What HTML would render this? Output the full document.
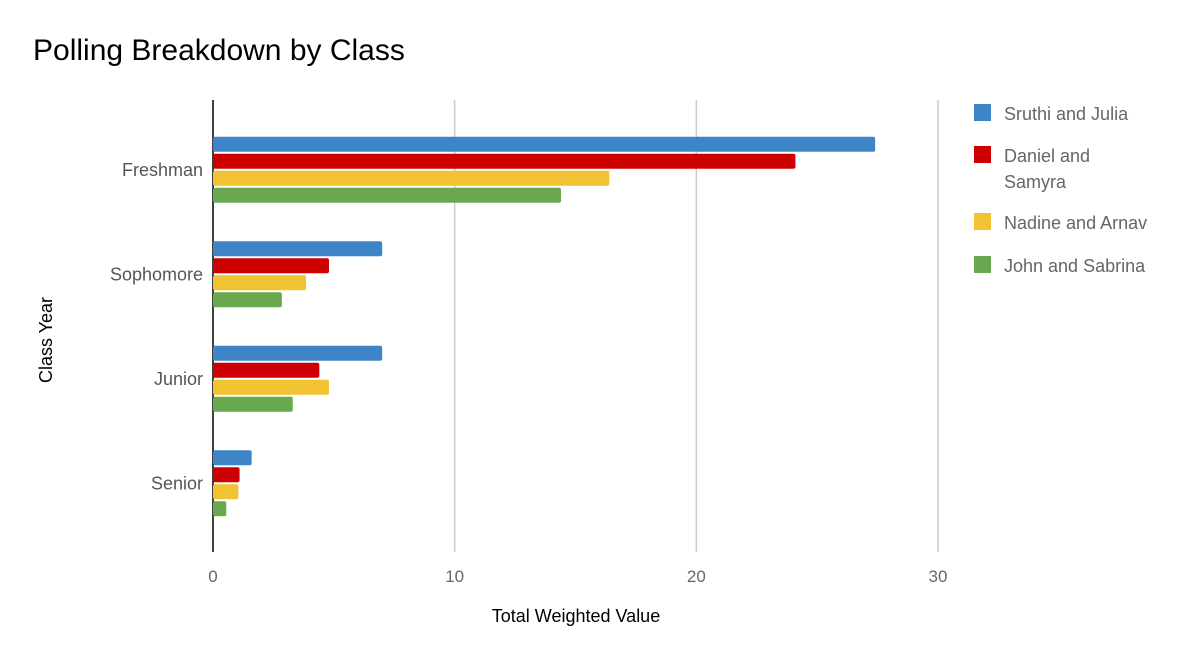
<!DOCTYPE html>
<html><head><meta charset="utf-8"><style>
body{margin:0;background:#fff;font-family:"Liberation Sans",sans-serif}
</style></head><body>
<svg width="1200" height="649" xmlns="http://www.w3.org/2000/svg" id="c" font-family="Liberation Sans, sans-serif">
<rect width="1200" height="649" fill="#fff"/>
<text x="33" y="60" font-size="30" fill="#000">Polling Breakdown by Class</text>
<text x="576" y="622" font-size="18" text-anchor="middle" fill="#000">Total Weighted Value</text>
<text x="52" y="340" font-size="18" text-anchor="middle" fill="#000" transform="rotate(-90 52 340)">Class Year</text>
<g id="grid"></g><g id="bars"></g><g id="legend"></g>
</svg>
<script>
const categories=["Freshman","Sophomore","Junior","Senior"];
const seriesNames=["Sruthi and Julia","Daniel and Samyra","Nadine and Arnav","John and Sabrina"];
const sruthi=[27.4,7.0,7.0,1.6];
const daniel=[24.1,4.8,4.4,1.1];
const nadine=[16.4,3.85,4.8,1.05];
const john=[14.4,2.85,3.3,0.55];
const xTicks=[0,10,20,30];
const series=[sruthi,daniel,nadine,john];
const colors=["#3d85c6","#cc0000","#f1c232","#6aa84f"];
const NS="http://www.w3.org/2000/svg";
const x0=213,x1=938,xMax=30,topY=117.5,band=104.5;
const xs=v=>x0+(x1-x0)*v/xMax;
function mk(t,a,p){const e=document.createElementNS(NS,t);for(const k in a)e.setAttribute(k,a[k]);p.appendChild(e);return e;}
const g=document.getElementById('grid'),b=document.getElementById('bars'),l=document.getElementById('legend');
xTicks.forEach(t=>{
  if(t>0){const ln=mk('line',{x1:xs(t),x2:xs(t),y1:100,y2:552,stroke:'#ccc','stroke-width':1.5},g);
  
  }
  const tx=mk('text',{x:xs(t),y:582,'font-size':17,fill:'#666','text-anchor':'middle'},g);tx.textContent=t;
  
  
});
categories.forEach((c,i)=>{
  const cy=topY+band*(i+0.5);
  const tx=mk('text',{x:203,y:cy+6,'font-size':18,fill:'#555','text-anchor':'end'},g);tx.textContent=c;
  
  
  series.forEach((s,j)=>{
    const r=mk('rect',{x:x0,y:cy-33+j*17,width:xs(s[i])-x0,height:15,rx:2,fill:colors[j]},b);
    
    
  });
});
const ax=mk('line',{x1:x0,x2:x0,y1:100,y2:552,stroke:'#000','stroke-width':1.5},g);


const ly=[113,155,222,265];
seriesNames.forEach((n,j)=>{
  const r=mk('rect',{x:974,y:ly[j]-9,width:17,height:17,fill:colors[j]},l);
  
  
  const t=mk('text',{x:1004,y:ly[j]+7,'font-size':18,fill:'#666'},l);
  
  
  if(j===1){t.textContent="Daniel and";const t2=mk('text',{x:1004,y:ly[j]+33,'font-size':18,fill:'#666'},l);t2.textContent="Samyra";
  
  }
  else t.textContent=n;
});
</script>
</body></html>
